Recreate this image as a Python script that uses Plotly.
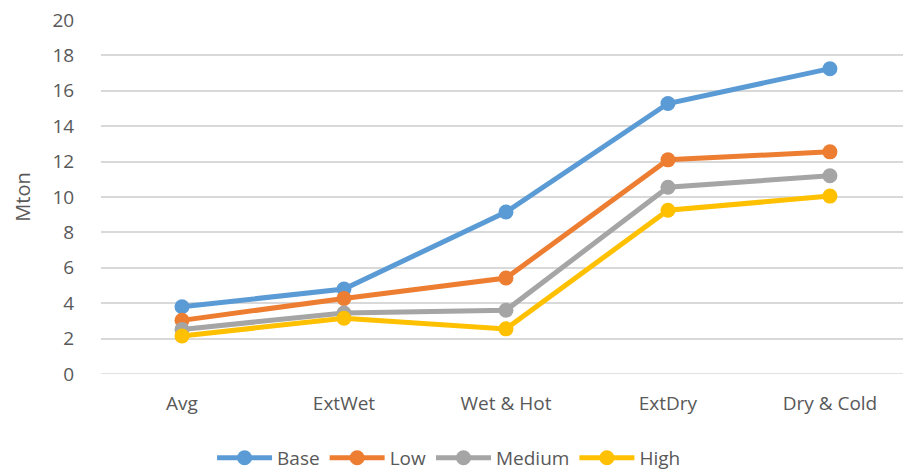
import plotly.graph_objects as go

# Scenario categories along the x axis
categories = ["Avg", "ExtWet", "Wet & Hot", "ExtDry", "Dry & Cold"]

# Emissions per scenario (Mton)
base = [3.8, 4.8, 9.15, 15.28, 17.25]
low = [3.03, 4.27, 5.42, 12.1, 12.55]
medium = [2.52, 3.45, 3.6, 10.55, 11.2]
high = [2.15, 3.15, 2.55, 9.25, 10.05]

series = [
    ("Base", base, "#5B9BD5"),
    ("Low", low, "#ED7D31"),
    ("Medium", medium, "#A5A5A5"),
    ("High", high, "#FFC000"),
]

fig = go.Figure()
for name, vals, color in series:
    fig.add_trace(go.Scatter(
        x=categories, y=vals, name=name, mode="lines+markers",
        line=dict(color=color, width=5),
        marker=dict(color=color, size=15),
    ))

font_color = "#595959"
fig.update_layout(
    width=903, height=471,
    margin=dict(l=101, r=0, t=20, b=97, autoexpand=False),
    plot_bgcolor="white", paper_bgcolor="white",
    font=dict(family="Open Sans, sans-serif", size=19, color=font_color),
    showlegend=True,
    legend=dict(
        orientation="h", x=0.434, xanchor="center", y=-0.237, yanchor="middle",
        font=dict(size=19, color=font_color), itemwidth=55, tracegroupgap=0,
    ),
    xaxis=dict(
        type="category", range=[-0.5, 4.451], showgrid=False, zeroline=False,
        showline=False, ticks="outside", ticklen=12, tickcolor="rgba(0,0,0,0)",
        tickfont=dict(size=19, color=font_color),
    ),
    yaxis=dict(
        range=[0, 20], dtick=2, showgrid=True, gridcolor="#D9D9D9", gridwidth=1.5,
        zeroline=False, showline=False, ticks="outside", ticklen=22,
        tickcolor="rgba(0,0,0,0)",
        tickfont=dict(size=19, color=font_color),
        title=dict(text="Mton", font=dict(size=20, color=font_color), standoff=16),
    ),
)
# baseline gridline at zero
fig.add_shape(type="line", xref="paper", yref="y", x0=0, x1=1, y0=0, y1=0,
              line=dict(color="#D9D9D9", width=1.5), layer="below")

fig.write_html("out.html")
